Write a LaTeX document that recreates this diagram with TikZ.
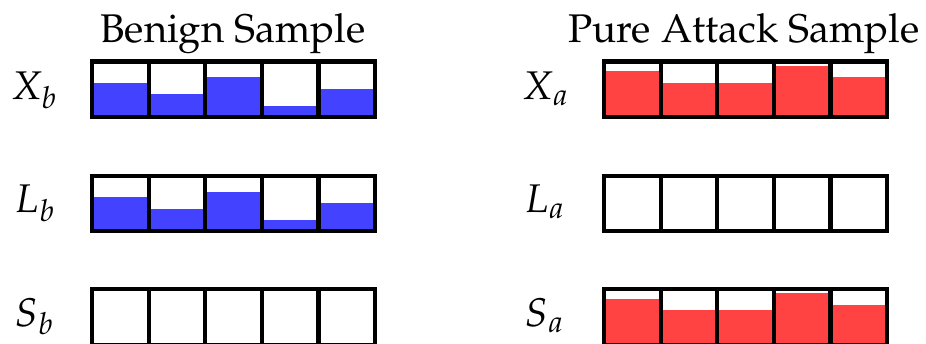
\documentclass[tikz,border=0pt]{standalone}
\usepackage[T1]{fontenc}
\usepackage{mathpazo}
\definecolor{benignblue}{RGB}{66,66,255}
\definecolor{attackred}{RGB}{255,66,66}
\tikzset{
  cellline/.style={draw=black, line width=4.2pt},
  titletext/.style={anchor=base, inner sep=0pt, font=\fontsize{40}{48}\selectfont},
  rowlabel/.style={anchor=base, inner sep=0pt, font=\fontsize{40}{48}\selectfont},
}
% #1 left x, #2 top y, #3 colour, #4 list of fill offsets from top
\newcommand{\cellrow}[4]{%
  \foreach \lv [count=\i from 0] in {#4} {%
    \fill[#3] ({#1+\i*56.6}, #2+55.6) rectangle ({#1+(\i+1)*56.6}, #2+\lv);
  }
  \foreach \i in {1,...,4} {%
    \draw[cellline] ({#1+\i*56.6}, #2) -- ({#1+\i*56.6}, #2+55.6);
  }
  \draw[cellline] (#1, #2) rectangle ({#1+5*56.6}, #2+55.6);
}
\begin{document}
\begin{tikzpicture}[x=1pt, y=-1pt]
\useasboundingbox (0,0) rectangle (926,344);
% titles
\node[titletext] (tb) at (233, 42.3) {Benign Sample};
\node[titletext] (ta) at (744, 42.3) {Pure Attack Sample};
% labels
\node[rowlabel] (xb) at (34, 100) {$X_b$};
\node[rowlabel] (lb) at (35, 213) {$L_b$};
\node[rowlabel] (sb) at (34.5, 326.5) {$S_b$};
\node[rowlabel] (xa) at (545.5, 100) {$X_a$};
\node[rowlabel] (la) at (544.5, 213) {$L_a$};
\node[rowlabel] (sa) at (544.5, 326.5) {$S_a$};
% benign rows
\cellrow{92}{61.5}{benignblue}{21.4,33,16,44.4,27.6}
\cellrow{92}{175.8}{benignblue}{21.4,33,16,44.4,27.6}
\cellrow{92}{289.3}{white}{55.6,55.6,55.6,55.6,55.6}
% attack rows
\cellrow{604}{61.5}{attackred}{9.7,21.2,21.2,4.2,15.7}
\cellrow{604}{175.8}{white}{55.6,55.6,55.6,55.6,55.6}
\cellrow{604}{289.3}{attackred}{9.7,21.2,21.2,4.2,15.7}
\end{tikzpicture}
\end{document}
